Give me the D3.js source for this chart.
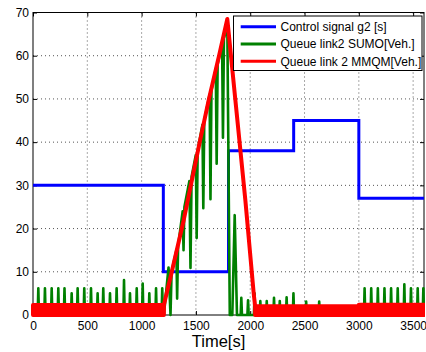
<!DOCTYPE html>
<html>
<head>
<meta charset="utf-8">
<script src="https://cdn.jsdelivr.net/npm/d3@7/dist/d3.min.js"></script>
<style>
  body { margin: 0; background: #fff; }
  svg { display: block; }
  text { font-family: "Liberation Sans", Arial, Helvetica, sans-serif; fill: #000; }
</style>
</head>
<body>
<svg id="chart" width="426" height="352"></svg>
<script>
// ---- data -------------------------------------------------------------
// Control signal g2 [s]: level held from each switching time
const signalTime  = [0, 1200, 1800, 2400, 3000, 3600];
const signalGreen = [30, 10, 38, 45, 27, 27];

// SUMO queue, link 2: isolated per-cycle spikes while traffic is light
const sumoSpikeTime   = [49, 110, 172, 233, 290, 356, 411, 472, 534, 595,
                         647, 709, 770, 838, 893, 955, 1010, 1071, 1133, 1190,
                         1918, 1980, 2040, 2093, 2152, 2219, 2272, 2335, 2398, 2515, 2635,
                         3053, 3114, 3175, 3236, 3297, 3358, 3419, 3480, 3542, 3594];
const sumoSpikeHeight = [6.2, 6.2, 6.2, 6.2, 6.2, 5.0, 6.2, 6.2, 6.2, 5.0,
                         6.2, 5.0, 6.2, 8.1, 5.0, 6.2, 7.3, 5.0, 6.2, 6.2,
                         4.0, 3.4, 5.0, 3.2, 3.2, 4.0, 3.2, 4.1, 5.0, 3.1, 3.1,
                         6.2, 6.2, 6.2, 6.2, 6.2, 6.2, 7.1, 6.2, 6.2, 6.2];
// SUMO queue, link 2: build-up and discharge while the signal is short
const sumoRushTime  = [1205, 1248, 1266, 1276, 1320, 1327, 1336, 1378, 1386, 1394,
                       1440, 1450, 1460, 1499, 1507, 1516, 1560, 1568, 1577, 1626,
                       1634, 1643, 1683, 1691, 1700, 1741, 1749, 1758, 1789, 1812,
                       1835, 1857, 1878];
const sumoRushQueue = [0, 11, 0, 10, 15, 3.8, 16, 24, 15, 25,
                       31, 10.9, 32, 37, 17.8, 38, 44, 24.7, 45, 51,
                       26.8, 52, 57, 35, 58, 63, 41, 64, 67, 0,
                       0, 23.1, 0];

// MMQM queue, link 2: congestion build-up and release
const mmqmTime  = [1205, 1278, 1388, 1535, 1620, 1713, 1789, 1863, 1955, 2032, 2045];
const mmqmQueue = [2.3, 10, 22, 40, 50, 60, 68.5, 49.8, 26.6, 5, 2.0];
// MMQM queue, link 2: fast oscillation band between 0 and its top value
const mmqmBandFrom = [0, 2045, 3000];
const mmqmBandTo   = [1205, 3000, 3600];
const mmqmBandTop  = [2.3, 2.0, 2.4];

const xTicks = [0, 500, 1000, 1500, 2000, 2500, 3000, 3500];
const yTicks = [0, 10, 20, 30, 40, 50, 60, 70];
const legendLabels = ["Control signal g2 [s]", "Queue link2 SUMO[Veh.]", "Queue link 2 MMQM[Veh.]"];
const seriesColors = ["#0000ff", "#008000", "#ff0000"];

// ---- layout -----------------------------------------------------------
const svg = d3.select("#chart");
const plot = { left: 33, right: 424, top: 12.5, bottom: 315 };

const x = d3.scaleLinear().domain([0, 3600]).range([plot.left, plot.right]);
const y = d3.scaleLinear().domain([0, 70]).range([plot.bottom, plot.top]);
const intFmt = d3.format("d");

svg.append("rect").attr("width", 426).attr("height", 352).attr("fill", "#fff");

// dotted grid
const grid = svg.append("g").attr("stroke", "#555").attr("stroke-width", 1)
  .attr("stroke-dasharray", "1,3").attr("fill", "none");
xTicks.filter(t => t > 0).forEach(t => {
  grid.append("line").attr("x1", x(t)).attr("x2", x(t)).attr("y1", plot.top).attr("y2", plot.bottom);
});
yTicks.filter(t => t > 0 && t < 70).forEach(t => {
  grid.append("line").attr("x1", plot.left).attr("x2", plot.right).attr("y1", y(t)).attr("y2", y(t));
});

// axes with inward ticks on all four sides
const tickLen = 4;
svg.append("g").attr("transform", `translate(0,${plot.bottom})`)
  .call(d3.axisBottom(x).tickValues(xTicks).tickSizeInner(-tickLen).tickSizeOuter(0)
    .tickPadding(6).tickFormat(intFmt))
  .call(g => g.select(".domain").remove());
svg.append("g").attr("transform", `translate(0,${plot.top})`)
  .call(d3.axisTop(x).tickValues(xTicks).tickSizeInner(-tickLen).tickSizeOuter(0).tickFormat(""))
  .call(g => g.select(".domain").remove());
svg.append("g").attr("transform", `translate(${plot.left},0)`)
  .call(d3.axisLeft(y).tickValues(yTicks).tickSizeInner(-tickLen).tickSizeOuter(0)
    .tickPadding(4).tickFormat(intFmt))
  .call(g => g.select(".domain").remove());
svg.append("g").attr("transform", `translate(${plot.right},0)`)
  .call(d3.axisRight(y).tickValues(yTicks).tickSizeInner(-tickLen).tickSizeOuter(0).tickFormat(""))
  .call(g => g.select(".domain").remove());
svg.selectAll(".tick text").attr("font-size", 12).attr("font-family", "'Liberation Sans', Arial, sans-serif");
svg.selectAll(".tick line").attr("stroke", "#000");

svg.append("rect")
  .attr("x", plot.left).attr("y", plot.top)
  .attr("width", plot.right - plot.left).attr("height", plot.bottom - plot.top)
  .attr("fill", "none").attr("stroke", "#000").attr("stroke-width", 1);

// x-axis title
svg.append("text").attr("x", 218.5).attr("y", 347).attr("text-anchor", "middle")
  .attr("font-size", 16.5).text("Time[s]");

// ---- series -----------------------------------------------------------
svg.append("clipPath").attr("id", "plotClip").append("rect")
  .attr("x", plot.left - 2).attr("y", plot.top - 2)
  .attr("width", plot.right - plot.left + 3).attr("height", plot.bottom - plot.top + 5);
const series = svg.append("g").attr("clip-path", "url(#plotClip)");

// control signal (step)
const signalPts = signalTime.map((t, i) => [t, signalGreen[i]]);
series.append("path")
  .attr("d", d3.line().x(d => x(d[0])).y(d => y(d[1])).curve(d3.curveStepAfter)(signalPts))
  .attr("fill", "none").attr("stroke", seriesColors[0]).attr("stroke-width", 3);

// SUMO queue: spikes expanded to up/down vertices, merged with the rush period
const sumoPts = [[0, 0]];
sumoSpikeTime.forEach((t, i) => {
  sumoPts.push([t - 6, 0], [t, sumoSpikeHeight[i]], [t + 6, 0]);
});
sumoRushTime.forEach((t, i) => sumoPts.push([t, sumoRushQueue[i]]));
sumoPts.sort((a, b) => a[0] - b[0]);
sumoPts.push([3600, 0]);
series.append("path")
  .attr("d", d3.line().x(d => x(d[0])).y(d => y(d[1]))(sumoPts))
  .attr("fill", "none").attr("stroke", seriesColors[1]).attr("stroke-width", 2.6)
  .attr("stroke-linejoin", "round");

// MMQM queue: oscillation bands plus the congestion triangle
const redG = series.append("g").attr("fill", seriesColors[2]).attr("stroke", seriesColors[2])
  .attr("stroke-width", 4).attr("stroke-linejoin", "round");
mmqmBandFrom.forEach((t0, i) => {
  const band = [[t0, mmqmBandTop[i]], [mmqmBandTo[i], mmqmBandTop[i]]];
  redG.append("path").attr("d",
    d3.area().x(d => x(d[0])).y0(y(0)).y1(d => y(d[1]))(band));
});
const mmqmPts = mmqmTime.map((t, i) => [t, mmqmQueue[i]]);
redG.append("path")
  .attr("d", d3.line().x(d => x(d[0])).y(d => y(d[1]))(mmqmPts))
  .attr("fill", "none");

// ---- legend -----------------------------------------------------------
const legend = svg.append("g");
legend.append("rect").attr("x", 233.5).attr("y", 16).attr("width", 188.5).attr("height", 54.5)
  .attr("fill", "#fff").attr("stroke", "#000").attr("stroke-width", 1);
const rowY = d3.scalePoint().domain(legendLabels).range([26.7, 61.3]);
legendLabels.forEach((lab, i) => {
  legend.append("line").attr("x1", 240.7).attr("x2", 276).attr("y1", rowY(lab)).attr("y2", rowY(lab))
    .attr("stroke", seriesColors[i]).attr("stroke-width", 3);
  legend.append("text").attr("x", 280.5).attr("y", rowY(lab) + 4.3).attr("font-size", 12).text(lab);
});
</script>
</body>
</html>
